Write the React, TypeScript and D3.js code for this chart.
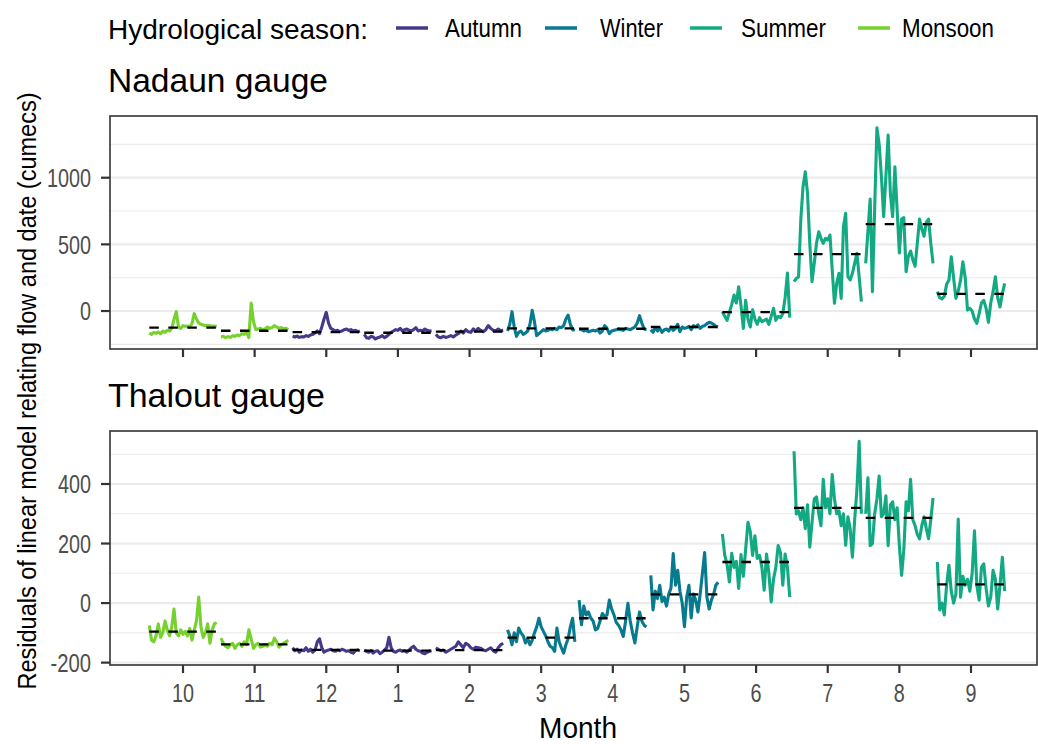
import React from "react";
import * as d3 from "d3";

// ---------- DATA ----------
const monthLabels = ["10", "11", "12", "1", "2", "3", "4", "5", "6", "7", "8", "9"];
const monthSeason = ["Monsoon", "Monsoon", "Autumn", "Autumn", "Autumn", "Winter", "Winter", "Winter", "Summer", "Summer", "Summer", "Summer"];
const seasonNames = ["Autumn", "Winter", "Summer", "Monsoon"];
const seasonColors = ["#47398A", "#077A8F", "#13AA83", "#76D12E"];

// Nadaun gauge daily residuals (cumecs)
const nadaunOct = [-165, -175, -160, -168, -158, -170, -150, -160, -145, -150, -130, -60, -5, -120, -130, -110, -115, -112, -120, -95, -20, -60, -90, -100, -105, -110, -108, -110, -115, -112, -118];
const nadaunNov = [-195, -190, -200, -192, -198, -185, -190, -180, -185, -170, -175, -160, -200, 60, -80, -140, -135, -130, -140, -135, -120, -130, -125, -110, -120, -130, -125, -135, -130, -140];
const nadaunDec = [-190, -195, -188, -198, -192, -195, -185, -190, -180, -175, -165, -150, -170, -120, -60, -10, -90, -130, -140, -150, -145, -155, -150, -140, -135, -145, -140, -150, -145, -155, -150];
const nadaunJan = [-175, -200, -205, -190, -195, -210, -200, -195, -185, -200, -190, -175, -160, -150, -140, -145, -130, -150, -140, -135, -145, -150, -140, -125, -150, -145, -150, -135, -145, -150, -148];
const nadaunFeb = [-175, -195, -200, -190, -198, -192, -185, -195, -180, -170, -150, -165, -140, -155, -160, -135, -150, -130, -145, -155, -140, -110, -130, -145, -150, -135, -148, -145];
const nadaunMar = [-150, -100, -5, -120, -190, -160, -150, -175, -165, -150, -100, 5, -80, -185, -170, -155, -140, -150, -145, -135, -140, -130, -140, -120, -125, -110, -60, -30, -100, -140, -145];
const nadaunApr = [-135, -140, -150, -145, -155, -150, -145, -150, -140, -165, -150, -110, -130, -170, -150, -145, -140, -135, -140, -145, -130, -135, -140, -130, -120, -90, -35, -90, -135, -140];
const nadaunMay = [-140, -160, -125, -150, -130, -160, -140, -135, -150, -120, -145, -130, -100, -155, -120, -130, -125, -115, -140, -110, -120, -105, -130, -115, -110, -95, -85, -90, -100, -115, -120];
const nadaunJun = [-5, -40, -70, -10, 50, 120, 60, 182, 40, -130, 80, -60, -120, 10, -60, -100, -50, -80, -70, -60, -100, -40, 20, -70, -40, -50, -20, 100, 285, -50];
const nadaunJul = [220, 245, 255, 683, 933, 1045, 883, 508, 220, 358, 508, 595, 545, 508, 545, 533, 570, 308, 58, 208, 283, 95, 633, 733, 258, 233, 283, 358, 433, 258, 70];
const nadaunAug = [357, 600, 840, 145, 770, 1375, 1250, 1010, 707, 1010, 1320, 880, 707, 1082, 760, 435, 690, 700, 295, 410, 450, 385, 335, 510, 690, 615, 560, 665, 690, 510, 357];
const nadaunSep = [145, 100, 90, 110, 200, 232, 407, 250, 95, 150, 230, 370, 250, 7, 20, 0, -60, -92, -20, 60, 80, 20, -85, 60, 145, 257, 100, 30, 130, 207];
const nadaunMeans = [-125, -148, -158, -163, -155, -130, -133, -120, -8, 427, 652, 128];

// Thalout gauge daily residuals (cumecs)
const thaloutOct = [-75, -125, -130, -110, -70, -115, -100, -60, -90, -110, -80, -20, -100, -110, -90, -105, -95, -110, -85, -125, -90, -60, 20, -80, -115, -100, -70, -135, -90, -70, -65];
const thaloutNov = [-118, -135, -145, -150, -140, -135, -152, -140, -135, -145, -130, -140, -90, -120, -152, -140, -135, -148, -145, -140, -145, -135, -140, -118, -130, -148, -140, -135, -130, -125];
const thaloutDec = [-150, -160, -155, -165, -158, -160, -150, -162, -155, -165, -158, -130, -120, -150, -165, -160, -158, -155, -160, -162, -158, -160, -155, -158, -162, -160, -165, -168, -160, -158, -160];
const thaloutJan = [-158, -162, -165, -160, -168, -162, -160, -170, -165, -158, -150, -115, -150, -162, -165, -160, -158, -162, -160, -165, -158, -150, -145, -155, -160, -162, -168, -170, -165, -162, -160];
const thaloutFeb = [-150, -155, -160, -158, -165, -160, -155, -150, -145, -130, -140, -150, -135, -140, -150, -155, -148, -150, -152, -158, -160, -155, -150, -160, -165, -150, -140, -135];
const thaloutMar = [-90, -110, -140, -100, -130, -84, -100, -110, -134, -120, -140, -125, -100, -80, -51, -80, -95, -110, -130, -145, -150, -162, -84, -130, -150, -168, -140, -120, -80, -51, -130];
const thaloutApr = [10, -73, -10, -40, -30, -50, -60, -90, -85, -60, -35, -45, -40, 10, -20, -40, -65, -75, -90, -112, -60, -1, -60, -100, -134, -80, -30, -60, -75, -80];
const thaloutMay = [93, -23, 40, 15, 60, 5, 20, -10, 30, 50, 166, 60, 110, 40, 0, -79, 20, 60, -50, 30, 10, -30, 30, 100, 170, 20, -20, 10, 30, 60, 70];
const thaloutJun = [232, 160, 130, 71, 167, 120, 140, 49, 163, 90, 180, 271, 240, 160, 226, 150, 160, 120, 43, 165, 100, 4, 80, 120, 193, 170, 60, 165, 120, 20];
const thaloutJul = [510, 299, 310, 280, 320, 250, 330, 188, 270, 350, 357, 300, 260, 416, 320, 350, 300, 432, 350, 300, 310, 260, 300, 194, 290, 250, 154, 280, 380, 543, 300];
const thaloutAug = [300, 421, 193, 200, 300, 350, 427, 290, 300, 360, 193, 330, 340, 280, 320, 193, 93, 180, 340, 310, 416, 280, 260, 230, 216, 260, 290, 250, 216, 280, 353];
const thaloutSep = [138, -23, 0, -40, 60, 127, 40, 0, 30, 282, 20, 90, 60, 80, 40, 100, 243, 60, 10, 120, 132, 50, -10, 20, 110, 80, -20, 60, 154, 40];
const thaloutMeans = [-96, -139, -157, -160, -158, -116, -51, 29, 138, 320, 286, 63];

const nadaunTicks = [0, 500, 1000];
const thaloutTicks = [-200, 0, 200, 400];

const panels = [
  { title: "Nadaun gauge", titleLen: 220, series: [nadaunOct, nadaunNov, nadaunDec, nadaunJan, nadaunFeb, nadaunMar, nadaunApr, nadaunMay, nadaunJun, nadaunJul, nadaunAug, nadaunSep], means: nadaunMeans, ticks: nadaunTicks, domain: [-285, 1463] },
  { title: "Thalout gauge", titleLen: 217, series: [thaloutOct, thaloutNov, thaloutDec, thaloutJan, thaloutFeb, thaloutMar, thaloutApr, thaloutMay, thaloutJun, thaloutJul, thaloutAug, thaloutSep], means: thaloutMeans, ticks: thaloutTicks, domain: [-208, 578] },
];

// ---------- LAYOUT ----------
const W = 1038, H = 744;
const PL = 110, PR = 1037;
const panelBoxes = [
  { top: 116, bottom: 349 },
  { top: 431, bottom: 665 },
];
const FONT = "'Liberation Sans', Arial, sans-serif";
const DIGIT_W = 11;
const MINUS_W = 7.5;
const numLen = (s: string) => s.split("").reduce((a, c) => a + (c === "-" ? MINUS_W : DIGIT_W), 0);

const x = d3.scaleLinear().domain([1, 12]).range([183, 971]);
const HALF = 0.47;

function Panel({ p, box }: { p: any; box: any }) {
  const y = d3.scaleLinear().domain(p.domain).range([box.bottom, box.top]);
  const major = p.ticks;
  const minor: number[] = [];
  const step = major[1] - major[0];
  for (let v = major[0] - step / 2; v <= p.domain[1]; v += step) {
    if (v >= p.domain[0] && v <= p.domain[1]) minor.push(v);
  }
  return (
    <g>
      <rect x={PL} y={box.top} width={PR - PL} height={box.bottom - box.top} fill="white" />
      {minor.map((v) => (
        <line key={"mn" + v} x1={PL} x2={PR} y1={y(v)} y2={y(v)} stroke="#EBEBEB" strokeWidth={1.1} />
      ))}
      {major.map((v: number) => (
        <line key={"mj" + v} x1={PL} x2={PR} y1={y(v)} y2={y(v)} stroke="#EBEBEB" strokeWidth={2.2} />
      ))}
      {p.series.map((vals: number[], m: number) => {
        const n = vals.length;
        const path = d3
          .line<number>()
          .x((_, i) => x(m + 1 - HALF + (2 * HALF * i) / (n - 1)))
          .y((d) => y(d))(vals);
        const color = seasonColors[seasonNames.indexOf(monthSeason[m])];
        return <path key={"s" + m} d={path || ""} fill="none" stroke={color} strokeWidth={3.1} strokeLinejoin="round" />;
      })}
      {p.means.map((v: number, m: number) => (
        <line key={"mean" + m} x1={x(m + 1 - HALF)} x2={x(m + 1 + HALF)} y1={y(v)} y2={y(v)} stroke="black" strokeWidth={2.3} strokeDasharray="9.5,9.5" />
      ))}
      <rect x={PL} y={box.top} width={PR - PL} height={box.bottom - box.top} fill="none" stroke="#333333" strokeWidth={1.6} />
      {major.map((v: number) => (
        <g key={"yt" + v}>
          <line x1={PL - 9} x2={PL} y1={y(v)} y2={y(v)} stroke="#333333" strokeWidth={2.2} />
          <text x={91} y={y(v)} dy="0.36em" textAnchor="end" fontSize={26} fill="#4D4D4D" fontFamily={FONT}
            textLength={numLen(String(v))} lengthAdjust="spacingAndGlyphs">
            {v}
          </text>
        </g>
      ))}
      {monthLabels.map((lab, m) => (
        <line key={"xt" + m} x1={x(m + 1)} x2={x(m + 1)} y1={box.bottom} y2={box.bottom + 8} stroke="#333333" strokeWidth={2.2} />
      ))}
      <text x={108} y={box.top - 24} fontSize={34} fill="black" fontFamily={FONT}
        textLength={p.titleLen} lengthAdjust="spacingAndGlyphs">
        {p.title}
      </text>
    </g>
  );
}

export default function App() {
  const legendKeys = [
    { x1: 396, x2: 428, tx: 445, len: 77 },
    { x1: 545, x2: 577, tx: 600, len: 63 },
    { x1: 690, x2: 722, tx: 741, len: 85 },
    { x1: 858, x2: 890, tx: 902, len: 92 },
  ];
  return (
    <svg width={W} height={H} style={{ position: "absolute", left: 0, top: 0, background: "white" }}>
      <rect x={0} y={0} width={W} height={H} fill="white" />
      {/* legend */}
      <text x={108} y={39} fontSize={28} fill="black" fontFamily={FONT} textLength={260} lengthAdjust="spacingAndGlyphs">
        Hydrological season:
      </text>
      {seasonNames.map((s, i) => (
        <g key={s}>
          <line x1={legendKeys[i].x1} x2={legendKeys[i].x2} y1={28} y2={28} stroke={seasonColors[i]} strokeWidth={3.5} />
          <text x={legendKeys[i].tx} y={37} fontSize={25} fill="black" fontFamily={FONT}
            textLength={legendKeys[i].len} lengthAdjust="spacingAndGlyphs">
            {s}
          </text>
        </g>
      ))}
      {panels.map((p, i) => (
        <Panel key={i} p={p} box={panelBoxes[i]} />
      ))}
      {monthLabels.map((lab, m) => (
        <text key={"xl" + m} x={x(m + 1)} y={702} textAnchor="middle" fontSize={25} fill="#4D4D4D" fontFamily={FONT}
          textLength={numLen(lab)} lengthAdjust="spacingAndGlyphs">
          {lab}
        </text>
      ))}
      <text x={578} y={738} textAnchor="middle" fontSize={29} fill="black" fontFamily={FONT} textLength={78} lengthAdjust="spacingAndGlyphs">
        Month
      </text>
      <text transform="translate(36,391) rotate(-90)" textAnchor="middle" fontSize={25} fill="black" fontFamily={FONT}
        textLength={597} lengthAdjust="spacingAndGlyphs">
        Residuals of linear model relating flow and date (cumecs)
      </text>
    </svg>
  );
}
